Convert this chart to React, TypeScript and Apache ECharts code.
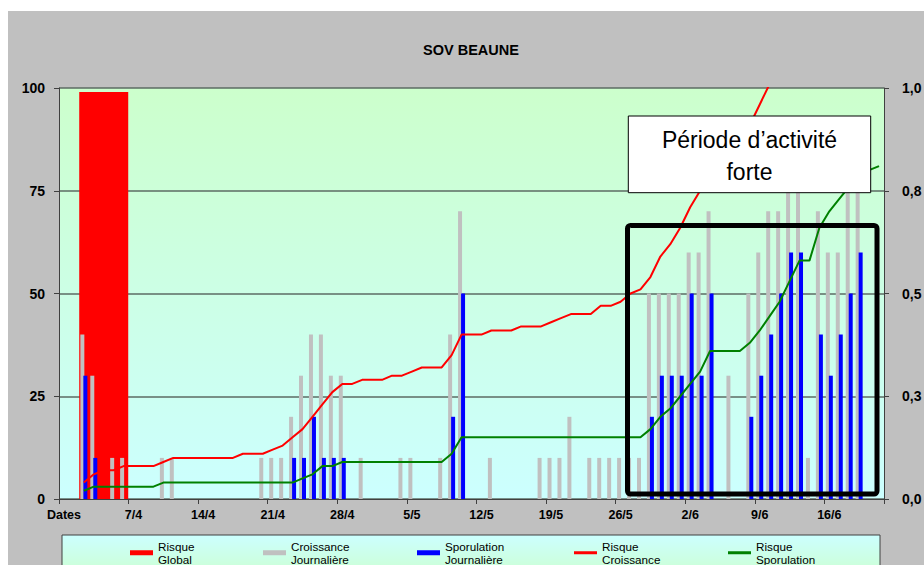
import React, { useEffect, useRef } from "react";
import * as echarts from "echarts";

const categories = [
  "Dates",
  "1/4", "2/4", "3/4", "4/4", "5/4", "6/4", "7/4", "8/4", "9/4", "10/4",
  "11/4", "12/4", "13/4", "14/4", "15/4", "16/4", "17/4", "18/4", "19/4", "20/4",
  "21/4", "22/4", "23/4", "24/4", "25/4", "26/4", "27/4", "28/4", "29/4", "30/4",
  "1/5", "2/5", "3/5", "4/5", "5/5", "6/5", "7/5", "8/5", "9/5", "10/5",
  "11/5", "12/5", "13/5", "14/5", "15/5", "16/5", "17/5", "18/5", "19/5", "20/5",
  "21/5", "22/5", "23/5", "24/5", "25/5", "26/5", "27/5", "28/5", "29/5", "30/5", "31/5",
  "1/6", "2/6", "3/6", "4/6", "5/6", "6/6", "7/6", "8/6", "9/6", "10/6",
  "11/6", "12/6", "13/6", "14/6", "15/6", "16/6", "17/6", "18/6", "19/6", "20/6", "21/6",
];

// Risque Global (left axis, 0-100)
const risqueGlobal = [
  null, null, null, null, 99, null, null, null, null, null,
  null, null, null, null, null, null, null, null, null, null,
  null, null, null, null, null, null, null, null, null, null,
  null, null, null, null, null, null, null, null, null, null,
  null, null, null, null, null, null, null, null, null, null,
  null, null, null, null, null, null, null, null, null, null,
  null, null, null, null, null, null, null, null, null, null,
  null, null, null, null, null, null, null, null, null, null,
  null, null, null,
];

// Croissance Journalière (left axis)
const croissanceJournaliere = [
  null, null, 40, 30, null, 10, 10, null, null, null,
  10, 10, null, null, null, null, null, null, null, null,
  10, 10, 10, 20, 30, 40, 40, 30, 30, null,
  10, null, null, null, 10, 10, null, null, 10, 40,
  70, null, null, 10, null, null, null, null, 10, 10,
  10, 20, null, 10, 10, 10, 10, 10, 10, 50,
  50, 50, 50, 60, 60, 70, null, 30, null, 50,
  60, 70, 70, 80, 80, 10, 70, 60, 60, 80,
  80, null, null,
];

// Sporulation Journalière (left axis)
const sporulationJournaliere = [
  null, null, 30, 10, null, null, null, null, null, null,
  null, null, null, null, null, null, null, null, null, null,
  null, null, null, 10, 10, 20, 10, 10, 10, null,
  null, null, null, null, null, null, null, null, null, 20,
  50, null, null, null, null, null, null, null, null, null,
  null, null, null, null, null, null, null, null, null, 20,
  30, 30, 30, 50, 30, 50, null, null, null, 20,
  30, 40, 50, 60, 60, null, 40, 30, 40, 50,
  60, null, null,
];

// Risque Croissance (right axis, 0-1)
const risqueCroissance = [
  null, null, 0.04, 0.06, 0.07, 0.07, 0.08, 0.08, 0.08, 0.08,
  0.09, 0.10, 0.10, 0.10, 0.10, 0.10, 0.10, 0.10, 0.11, 0.11,
  0.11, 0.12, 0.13, 0.15, 0.17, 0.20, 0.23, 0.26, 0.28, 0.28,
  0.29, 0.29, 0.29, 0.30, 0.30, 0.31, 0.32, 0.32, 0.32, 0.35,
  0.40, 0.40, 0.40, 0.41, 0.41, 0.41, 0.42, 0.42, 0.42, 0.43,
  0.44, 0.45, 0.45, 0.45, 0.47, 0.47, 0.48, 0.50, 0.51, 0.54,
  0.59, 0.62, 0.66, 0.71, 0.75, 0.78, 0.81, 0.84, 0.87, 0.91,
  0.96, 1.01, 1.06, null, null, null, null, null, null, null,
  null, null, null,
];

// Risque Sporulation (right axis, 0-1)
const risqueSporulation = [
  null, null, 0.02, 0.03, 0.03, 0.03, 0.03, 0.03, 0.03, 0.03,
  0.04, 0.04, 0.04, 0.04, 0.04, 0.04, 0.04, 0.04, 0.04, 0.04,
  0.04, 0.04, 0.04, 0.04, 0.05, 0.06, 0.08, 0.08, 0.09, 0.09,
  0.09, 0.09, 0.09, 0.09, 0.09, 0.09, 0.09, 0.09, 0.09, 0.11,
  0.15, 0.15, 0.15, 0.15, 0.15, 0.15, 0.15, 0.15, 0.15, 0.15,
  0.15, 0.15, 0.15, 0.15, 0.15, 0.15, 0.15, 0.15, 0.15, 0.17,
  0.20, 0.22, 0.25, 0.28, 0.31, 0.36, 0.36, 0.36, 0.36, 0.38,
  0.41, 0.445, 0.48, 0.53, 0.58, 0.58, 0.66, 0.70, 0.73, 0.76,
  0.78, 0.80, 0.81,
];

const rightTickLabels = ["0,0", "0,3", "0,5", "0,8", "1,0"];
const chartTitle = "SOV BEAUNE";
const noteText = "Période d’activité\nforte";

const seriesNames = [
  "Risque Global",
  "Croissance Journalière",
  "Sporulation Journalière",
  "Risque Croissance",
  "Risque Sporulation",
];
const legendLabels = [
  "Risque\nGlobal",
  "Croissance\nJournalière",
  "Sporulation\nJournalière",
  "Risque\nCroissance",
  "Risque\nSporulation",
];

const FONT = "'Liberation Sans', Arial, Helvetica, sans-serif";

export default function App() {
  const ref = useRef<HTMLDivElement>(null);

  useEffect(() => {
    if (!ref.current) return;
    const chart = echarts.init(ref.current, null, { renderer: "svg" });

    const axisColor = "#404040";
    const legendLefts = [122, 255, 409, 566, 720];
    const legendIconH = [5, 5, 5, 3, 3];

    const option: any = {
      animation: false,
      backgroundColor: "#C0C0C0",
      textStyle: { fontFamily: FONT },
      grid: {
        left: 51,
        top: 77,
        width: 825,
        height: 411,
        show: true,
        borderWidth: 0,
        backgroundColor: new echarts.graphic.LinearGradient(0, 0, 0, 1, [
          { offset: 0, color: "#CCFFCC" },
          { offset: 1, color: "#CCFFFF" },
        ]),
        outerBoundsMode: "none",
      },
      xAxis: [
        {
          type: "category",
          data: categories,
          boundaryGap: true,
          position: "bottom",
          axisLine: { show: true, lineStyle: { color: axisColor, width: 1 } },
          axisTick: { show: true, interval: 6, length: 5, lineStyle: { color: axisColor } },
          axisLabel: {
            interval: 6,
            margin: 9,
            fontSize: 12.5,
            fontWeight: "bold",
            color: "#000",
            fontFamily: FONT,
          },
          splitLine: { show: false },
        },
        {
          type: "category",
          data: categories,
          boundaryGap: true,
          position: "bottom",
          show: false,
        },
      ],
      yAxis: [
        {
          type: "value",
          min: 0,
          max: 100,
          interval: 25,
          position: "left",
          axisLine: { show: true, lineStyle: { color: axisColor, width: 1 } },
          axisTick: { show: true, length: 5, lineStyle: { color: axisColor } },
          axisLabel: {
            margin: 14,
            fontSize: 14,
            fontWeight: "bold",
            color: "#000",
            fontFamily: FONT,
          },
          splitLine: { show: true, lineStyle: { color: "#5c6b63", width: 1.5 } },
        },
        {
          type: "value",
          min: 0,
          max: 1,
          interval: 0.25,
          position: "right",
          axisLine: { show: true, lineStyle: { color: axisColor, width: 1 } },
          axisTick: { show: true, length: 5, lineStyle: { color: axisColor } },
          axisLabel: {
            margin: 18,
            fontSize: 14,
            fontWeight: "bold",
            color: "#000",
            fontFamily: FONT,
            formatter: (v: number) => rightTickLabels[Math.round(v / 0.25)],
          },
          splitLine: { show: false },
        },
      ],
      legend: seriesNames.map((name, i) => ({
        data: [name],
        left: legendLefts[i],
        top: 523,
        padding: 0,
        itemGap: 0,
        itemWidth: 23,
        itemHeight: legendIconH[i],
        icon: "rect",
        selectedMode: false,
        formatter: () => legendLabels[i],
        textStyle: {
          fontSize: 11.7,
          lineHeight: 12.5,
          padding: [12.5, 0, 0, 0],
          color: "#000",
          fontFamily: FONT,
        },
      })),
      series: [
        {
          name: seriesNames[0],
          type: "bar",
          xAxisIndex: 1,
          yAxisIndex: 0,
          data: risqueGlobal,
          barWidth: 49,
          itemStyle: { color: "#FF0000" },
          z: 1,
        },
        {
          name: seriesNames[1],
          type: "bar",
          xAxisIndex: 0,
          yAxisIndex: 0,
          data: croissanceJournaliere,
          barWidth: 4,
          barGap: "-25%",
          itemStyle: { color: "#C0C0C0" },
          z: 2,
        },
        {
          name: seriesNames[2],
          type: "bar",
          xAxisIndex: 0,
          yAxisIndex: 0,
          data: sporulationJournaliere,
          barWidth: 4,
          barGap: "-25%",
          itemStyle: { color: "#0000FF" },
          z: 2,
        },
        {
          name: seriesNames[3],
          type: "line",
          xAxisIndex: 0,
          yAxisIndex: 1,
          data: risqueCroissance,
          symbol: "none",
          showSymbol: false,
          clip: true,
          itemStyle: { color: "#FF0000" },
          lineStyle: { color: "#FF0000", width: 2 },
          z: 3,
        },
        {
          name: seriesNames[4],
          type: "line",
          xAxisIndex: 0,
          yAxisIndex: 1,
          data: risqueSporulation,
          symbol: "none",
          showSymbol: false,
          clip: true,
          itemStyle: { color: "#008000" },
          lineStyle: { color: "#008000", width: 2 },
          z: 3,
        },
      ],
      graphic: [
        {
          type: "text",
          x: 463,
          y: 39,
          z: 50,
          style: {
            text: chartTitle,
            fontSize: 14.5,
            fontWeight: "bold",
            fontFamily: FONT,
            fill: "#000",
            align: "center",
            verticalAlign: "middle",
          },
        },
        {
          type: "rect",
          z: 0,
          shape: { x: 54, y: 524, width: 818, height: 45 },
          style: {
            fill: new echarts.graphic.LinearGradient(0, 0, 0, 1, [
              { offset: 0, color: "#CCFFFF" },
              { offset: 1, color: "#CCFFCC" },
            ]),
            stroke: "#404040",
            lineWidth: 1,
          },
        },
        {
          type: "rect",
          z: 100,
          shape: { x: 619.5, y: 214.5, width: 249.5, height: 268.5, r: 3 },
          style: { fill: "transparent", stroke: "#000", lineWidth: 5 },
        },
        {
          type: "rect",
          z: 101,
          shape: { x: 620.3, y: 105, width: 242.4, height: 76.7 },
          style: { fill: "#FFFFFF", stroke: "#000", lineWidth: 1 },
        },
        {
          type: "text",
          x: 741.5,
          y: 145,
          z: 102,
          style: {
            text: noteText,
            fontSize: 23,
            lineHeight: 32,
            fontFamily: FONT,
            fill: "#000",
            align: "center",
            verticalAlign: "middle",
          },
        },
      ],
    };

    chart.setOption(option);
    return () => chart.dispose();
  }, []);

  return (
    <div
      ref={ref}
      style={{ position: "absolute", left: 8, top: 11, width: 916, height: 554 }}
    />
  );
}
